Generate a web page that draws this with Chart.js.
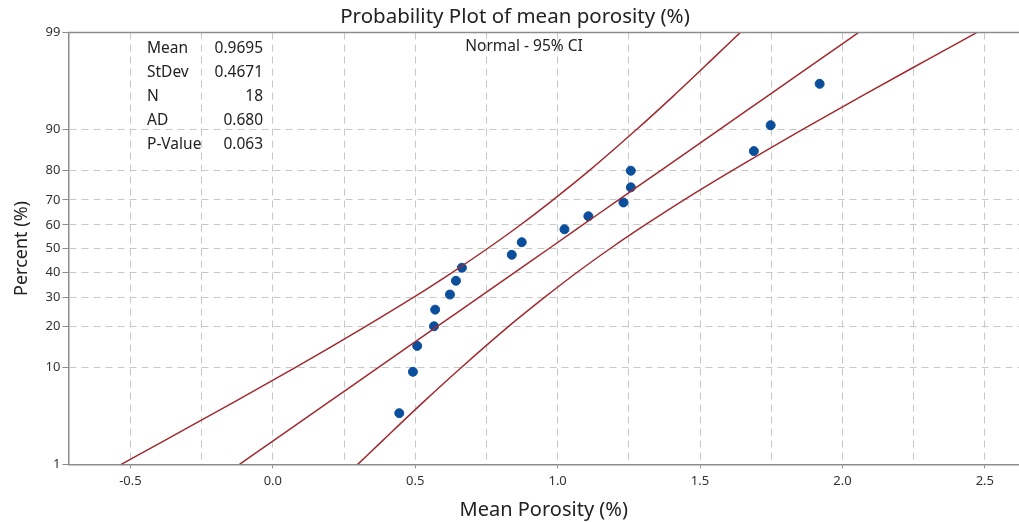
<!DOCTYPE html>
<html>
<head>
<meta charset="utf-8">
<script src="https://cdn.jsdelivr.net/npm/chart.js@4.4.1/dist/chart.umd.min.js"></script>
<style>
  html, body { margin: 0; padding: 0; background: #fff; overflow: hidden; }
  #wrap { width: 1019px; height: 522px; }
</style>
</head>
<body>
<div id="wrap"><canvas id="chart1"></canvas></div>
<script>
// sample values (sorted) and their plotted percents
const porosity = [0.444, 0.492, 0.507, 0.566, 0.570, 0.622, 0.643, 0.664, 0.839,
                  0.874, 1.024, 1.108, 1.231, 1.257, 1.257, 1.689, 1.748, 1.920]
const plotPercent = [3.8, 9.2, 14.7, 20.1, 25.5, 31.0, 36.4, 41.8, 47.3,
                     52.7, 58.2, 63.6, 69.0, 74.5, 79.9, 85.3, 90.8, 96.2]

// fitted line and 95% CI band, read at these percents
const linePercent = [1, 2, 5, 10, 20, 30, 40, 50, 60, 70, 80, 90, 95, 98, 99]
const fitX   = [-0.117, 0.010, 0.201, 0.371, 0.576, 0.725, 0.851, 0.970, 1.088, 1.214, 1.363, 1.568, 1.738, 1.929, 2.056]
const lowerX = [-0.532, -0.371, -0.130, 0.080, 0.325, 0.495, 0.632, 0.754, 0.869, 0.984, 1.112, 1.277, 1.407, 1.548, 1.641]
const upperX = [0.298, 0.391, 0.532, 0.662, 0.827, 0.955, 1.070, 1.185, 1.307, 1.444, 1.614, 1.859, 2.069, 2.310, 2.471]

// axis ticks
const percentTicks = [1, 10, 20, 30, 40, 50, 60, 70, 80, 90, 99]
const xTicks = [-0.5, -0.25, 0, 0.25, 0.5, 0.75, 1, 1.25, 1.5, 1.75, 2, 2.25, 2.5]

const statLabels = ['Mean', 'StDev', 'N', 'AD', 'P-Value']
const statValues = ['0.9695', '0.4671', '18', '0.680', '0.063']

const FONT = '"Noto Sans", "Open Sans", sans-serif'
const lineRed = '#a02a30'
const dotBlue = '#0b4f9c'

// inverse normal cdf (Acklam)
function probit(pct) {
  const p = pct / 100
  const a = [-39.69683028665376, 220.9460984245205, -275.9285104469687, 138.3577518672690, -30.66479806614716, 2.506628277459239]
  const b = [-54.47609879822406, 161.5858368580409, -155.6989798598866, 66.80131188771972, -13.28068155288572]
  const c = [-0.007784894002430293, -0.3223964580411365, -2.400758277161838, -2.549732539343734, 4.374664141464968, 2.938163982698783]
  const d = [0.007784695709041462, 0.3224671290700398, 2.445134137142996, 3.754408661907416]
  const pl = 0.02425
  let q, r
  if (p < pl) {
    q = Math.sqrt(-2 * Math.log(p))
    return (((((c[0]*q+c[1])*q+c[2])*q+c[3])*q+c[4])*q+c[5]) / ((((d[0]*q+d[1])*q+d[2])*q+d[3])*q+1)
  }
  if (p > 1 - pl) {
    q = Math.sqrt(-2 * Math.log(1 - p))
    return -(((((c[0]*q+c[1])*q+c[2])*q+c[3])*q+c[4])*q+c[5]) / ((((d[0]*q+d[1])*q+d[2])*q+d[3])*q+1)
  }
  q = p - 0.5
  r = q * q
  return (((((a[0]*r+a[1])*r+a[2])*r+a[3])*r+a[4])*r+a[5])*q / (((((b[0]*r+b[1])*r+b[2])*r+b[3])*r+b[4])*r+1)
}
function normCdf(z) {
  const t = 1 / (1 + 0.2316419 * Math.abs(z))
  const y = 1 - 0.3989423 * Math.exp(-z * z / 2) * t * (0.3193815 + t * (-0.3565638 + t * (1.781478 + t * (-1.821256 + t * 1.330274))))
  return z >= 0 ? y : 1 - y
}

// normal probability scale for the percent axis
class ProbabilityScale extends Chart.LinearScale {
  determineDataLimits() {
    this.min = this.options.min
    this.max = this.options.max
  }
  buildTicks() {
    return percentTicks.map(v => ({ value: v }))
  }
  configure() {
    super.configure()
    this._zStart = probit(this.min)
    this._zRange = probit(this.max) - this._zStart
  }
  getPixelForValue(v) {
    return this.getPixelForDecimal((probit(v) - this._zStart) / this._zRange)
  }
  getValueForPixel(px) {
    const dec = this.getDecimalForPixel(px)
    return 100 * normCdf(this._zStart + dec * this._zRange)
  }
}
ProbabilityScale.id = 'probability'
ProbabilityScale.defaults = {}
Chart.register(ProbabilityScale)

const isHalf = v => Math.abs(v * 2 - Math.round(v * 2)) < 1e-9

const toPts = (xs, ys) => xs.map((x, i) => ({ x: x, y: ys[i] }))

const overlay = {
  id: 'overlay',
  afterDraw(chart) {
    const ctx = chart.ctx
    const a = chart.chartArea
    ctx.save()
    // top frame line
    ctx.strokeStyle = '#8c8c8c'
    ctx.lineWidth = 1.5
    ctx.beginPath()
    ctx.moveTo(a.left, a.top)
    ctx.lineTo(chart.width, a.top)
    ctx.stroke()
    ctx.fillStyle = '#222'
    ctx.font = '15.5px ' + FONT
    ctx.textBaseline = 'middle'
    statLabels.forEach((s, i) => {
      const y = 49 + i * 23.8
      ctx.textAlign = 'left'
      ctx.fillText(s, 147, y)
      ctx.textAlign = 'right'
      ctx.fillText(statValues[i], 263, y)
    })
    ctx.textAlign = 'center'
    ctx.fillText('Normal - 95% CI', 524, 47)
    ctx.restore()
  }
}

new Chart(document.getElementById('chart1'), {
  type: 'scatter',
  data: {
    datasets: [
      { type: 'line', data: toPts(lowerX, linePercent), borderColor: lineRed, borderWidth: 1.5,
        pointRadius: 0, cubicInterpolationMode: 'monotone', fill: false },
      { type: 'line', data: toPts(fitX, linePercent), borderColor: lineRed, borderWidth: 1.5,
        pointRadius: 0, cubicInterpolationMode: 'monotone', fill: false },
      { type: 'line', data: toPts(upperX, linePercent), borderColor: lineRed, borderWidth: 1.5,
        pointRadius: 0, cubicInterpolationMode: 'monotone', fill: false },
      { data: toPts(porosity, plotPercent), backgroundColor: dotBlue, borderColor: dotBlue,
        pointRadius: 4.5, pointHoverRadius: 4.5 }
    ]
  },
  options: {
    responsive: true,
    maintainAspectRatio: false,
    animation: false,
    layout: { autoPadding: false, padding: { left: 11, right: 0, top: 0, bottom: 0 } },
    plugins: {
      legend: { display: false },
      tooltip: { enabled: false },
      title: {
        display: true,
        text: 'Probability Plot of mean porosity (%)',
        color: '#222',
        font: { family: FONT, size: 20.5, weight: 'normal' },
        padding: { top: 5, bottom: 3 }
      }
    },
    scales: {
      x: {
        type: 'linear',
        min: -0.7175,
        max: 2.62,
        afterBuildTicks: s => { s.ticks = xTicks.map(v => ({ value: v })) },
        ticks: {
          autoSkip: false,
          maxRotation: 0,
          padding: 5,
          color: '#333',
          font: { family: FONT, size: 13 },
          callback: v => isHalf(v) ? v.toFixed(1) : ''
        },
        grid: {
          color: '#c8c8c8',
          lineWidth: 1,
          tickLength: 4,
          tickColor: c => (c.tick && isHalf(c.tick.value)) ? '#8c8c8c' : 'rgba(0,0,0,0)'
        },
        border: { color: '#8c8c8c', width: 1.5, dash: [7, 5] },
        title: {
          display: true,
          text: 'Mean Porosity (%)',
          color: '#222',
          font: { family: FONT, size: 20 },
          padding: { top: 4, bottom: 0 }
        }
      },
      y: {
        type: 'probability',
        position: 'left',
        min: 1,
        max: 99,
        ticks: {
          autoSkip: false,
          padding: 2,
          color: '#333',
          font: { family: FONT, size: 13 },
          callback: v => String(v)
        },
        grid: {
          color: c => (c.tick && (c.tick.value === 1 || c.tick.value === 99)) ? 'rgba(0,0,0,0)' : '#c8c8c8',
          lineWidth: 1,
          tickLength: 6,
          tickColor: '#8c8c8c'
        },
        border: { color: '#8c8c8c', width: 1.5, dash: [7, 5] },
        title: {
          display: true,
          text: 'Percent (%)',
          color: '#222',
          font: { family: FONT, size: 18 },
          padding: { top: 0, bottom: 11 }
        }
      }
    }
  },
  plugins: [overlay]
})
</script>
</body>
</html>
